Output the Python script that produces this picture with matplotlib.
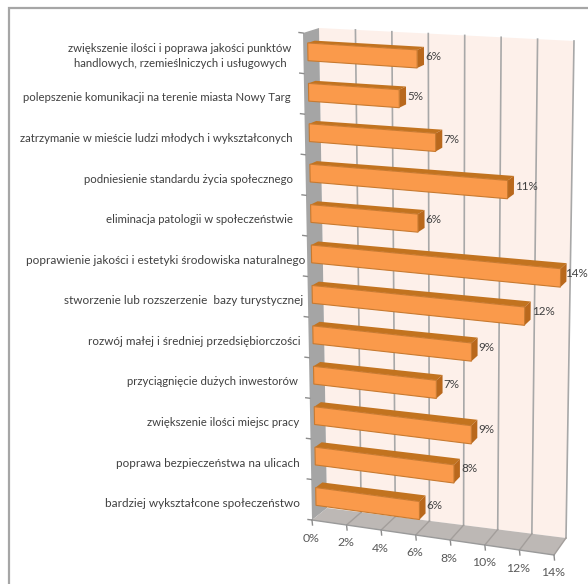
import numpy as np
import matplotlib
matplotlib.use('Agg')
import matplotlib.pyplot as plt
from matplotlib.patches import Polygon

plt.rcParams['font.family'] = ['Lato', 'DejaVu Sans']

categories = [
    'zwiększenie ilości i poprawa jakości punktów\nhandlowych, rzemieślniczych i usługowych',
    'polepszenie komunikacji na terenie miasta Nowy Targ',
    'zatrzymanie w mieście ludzi młodych i wykształconych',
    'podniesienie standardu życia społecznego',
    'eliminacja patologii w społeczeństwie',
    'poprawienie jakości i estetyki środowiska naturalnego',
    'stworzenie lub rozszerzenie  bazy turystycznej',
    'rozwój małej i średniej przedsiębiorczości',
    'przyciągnięcie dużych inwestorów',
    'zwiększenie ilości miejsc pracy',
    'poprawa bezpieczeństwa na ulicach',
    'bardziej wykształcone społeczeństwo',
]
values = [6, 5, 7, 11, 6, 14, 12, 9, 7, 9, 8, 6]
ticks = [0, 2, 4, 6, 8, 10, 12, 14]
vmax = 14

# corners of the fake 3d box in pixels (top left, top right, bottom left, bottom right)
FRONT = np.array([[303, 33], [559, 50], [312, 520], [554, 555]], dtype=float)
BACK = np.array([[319, 28], [574, 41], [327, 508], [566, 538]], dtype=float)
# the labels in the picture do not follow the wall exactly
LABEL_RIGHT = [291, 291, 293, 293, 293, 305, 303, 301, 298, 299, 300, 300]
LABEL_SIZE = [8.2, 8.2, 8.2, 8.2, 8.2, 8.5, 8.5, 8.4, 8.2, 8.2, 8.4, 8.5]


def proj(v, row, d=0.0):
    # v = value, row = position in categories (0 top .. 12 bottom), d = depth 0..1
    u, t = v / vmax, row / len(values)
    c = FRONT + (BACK - FRONT) * d
    top = c[0] + (c[1] - c[0]) * u
    bot = c[2] + (c[3] - c[2]) * u
    return top + (bot - top) * t


def poly(pts, fc, ec='none', lw=0.0, z=1):
    ax.add_patch(Polygon(pts, closed=True, fc=fc, ec=ec, lw=lw, zorder=z))


fig = plt.figure(figsize=(5.88, 5.84), dpi=100)
ax = fig.add_axes((0, 0, 1, 1))
ax.set_xlim(0, 588)
ax.set_ylim(584, 0)
ax.axis('off')

# outer frame, only top and left are visible
ax.plot([9, 9, 588], [584, 8, 8], color='#a6a6a6', lw=1.6, solid_joinstyle='miter')

n = len(values)
poly([proj(0, 0, 1), proj(vmax, 0, 1), proj(vmax, n, 1), proj(0, n, 1)], '#fdf0ea')
poly([proj(0, 0, 0), proj(0, 0, 1), proj(0, n, 1), proj(0, n, 0)], '#a5a5a5')
poly([proj(0, n, 0), proj(0, n, 1), proj(vmax, n, 1), proj(vmax, n, 0)], '#bdb8b5')

for t in ticks:
    a, b, c = proj(t, 0, 1), proj(t, n, 1), proj(t, n, 0)
    if t > 0:
        ax.plot([a[0], b[0]], [a[1], b[1]], color='#a8a8a8', lw=1.2, zorder=2)
        ax.plot([b[0], c[0]], [b[1], c[1]], color='#a39e9b', lw=1.0, zorder=2)
    ax.plot([c[0], c[0] + 0.5], [c[1], c[1] + 5], color='#8c8c8c', lw=1.0, zorder=2)
    ax.text(c[0] - 1, c[1] + 18, f'{t}%', ha='center', va='center', fontsize=8.8, color='#595959')

a, b = proj(0, n, 0), proj(vmax, n, 0)
ax.plot([a[0], b[0]], [a[1], b[1]], color='#9a9a9a', lw=1.0, zorder=2)
for r in range(n + 1):
    p = proj(0, r, 0)
    ax.plot([p[0] - 4, p[0]], [p[1] - 0.5, p[1]], color='#8c8c8c', lw=1.0, zorder=2)

# bars: front face sits at d0, back face at d1
d0, d1 = 0.28, 0.72
gap = 0.28
for i, (name, val) in enumerate(zip(categories, values)):
    r0, r1 = i + gap, i + 1 - gap
    poly([proj(0, r0, d0), proj(0, r0, d1), proj(val, r0, d1), proj(val, r0, d0)], '#c2731f', z=3)
    poly([proj(val, r0, d0), proj(val, r0, d1), proj(val, r1, d1), proj(val, r1, d0)], '#b9681c', z=3)
    poly([proj(0, r0, d0), proj(val, r0, d0), proj(val, r1, d0), proj(0, r1, d0)], '#fa9a4b', ec='#c87a30', lw=0.8, z=4)

    # the longest bar ends next to the picture edge, keep its label inside
    lab = proj(val, i + 0.5, d1)
    ax.text(min(lab[0] + 1, 565), lab[1] + 1, f'{val}%', ha='left', va='center', fontsize=8.4,
            color='#404040', zorder=5)

    y = proj(0, i + 0.5, 0)[1] + 4
    if '\n' in name:
        ax.text(180, y - 1, name, ha='center', va='center', fontsize=LABEL_SIZE[i], color='#404040',
                multialignment='center', linespacing=1.45)
    else:
        ax.text(LABEL_RIGHT[i], y, name, ha='right', va='center', fontsize=LABEL_SIZE[i], color='#404040')

fig.savefig('out.png', dpi=100)
